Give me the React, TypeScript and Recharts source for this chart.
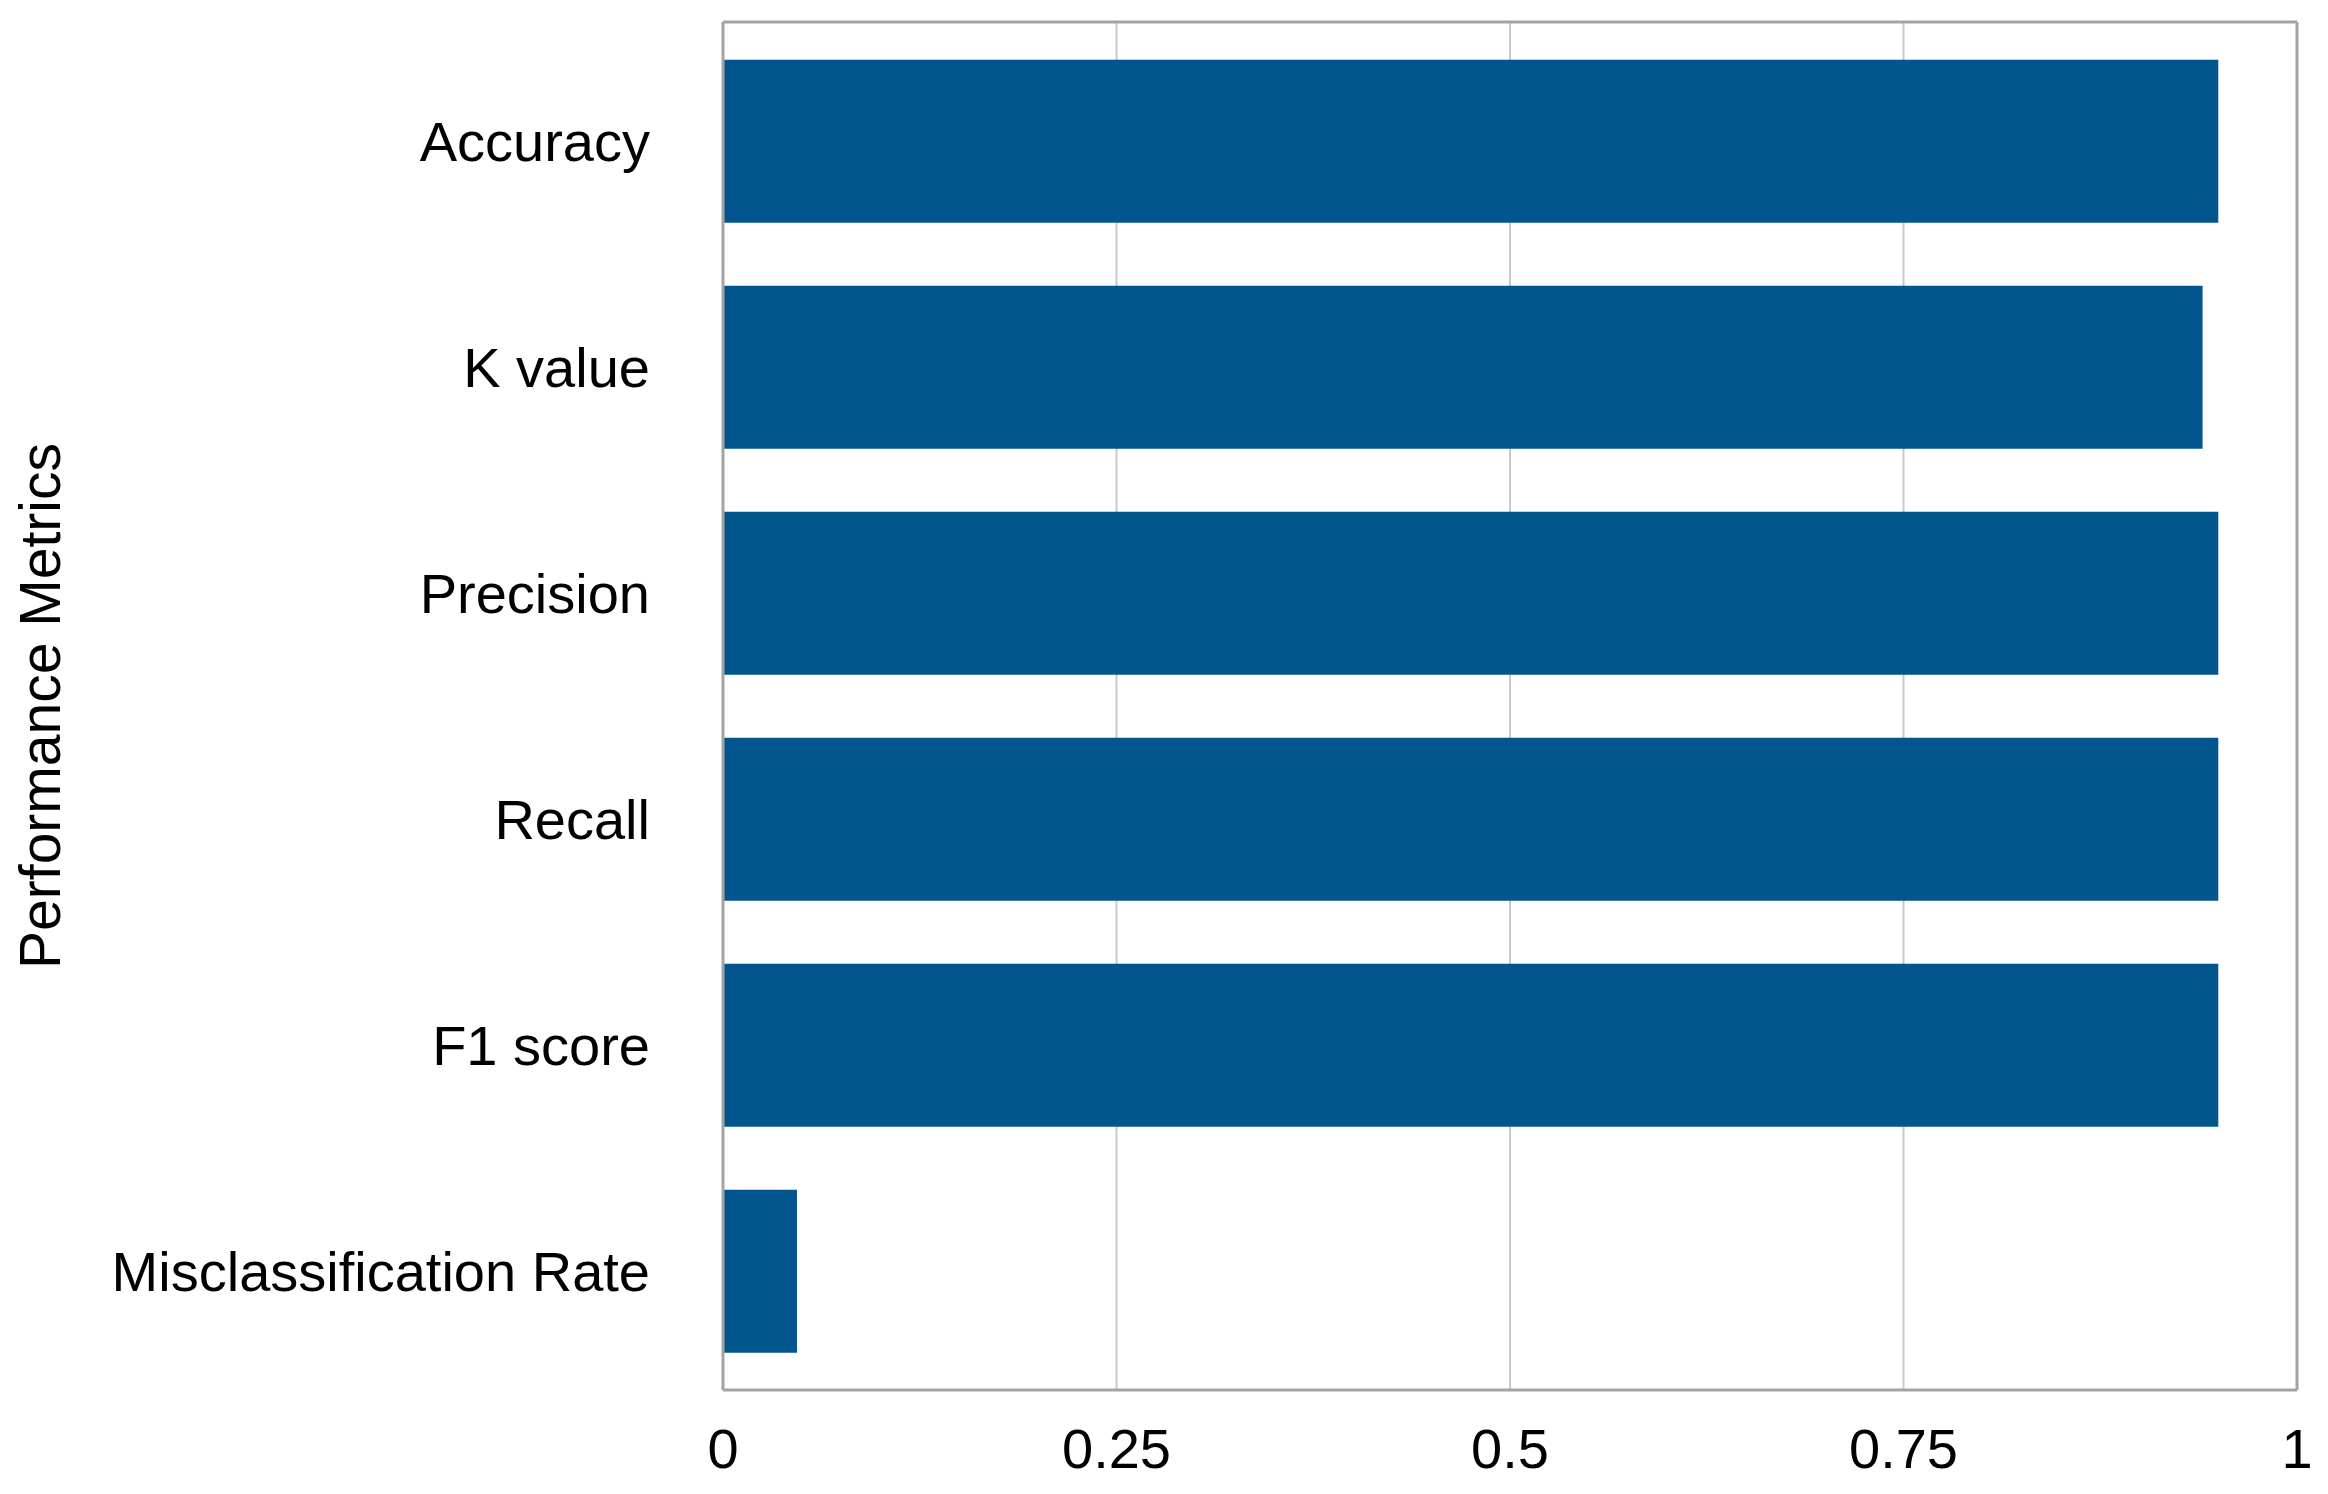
import { BarChart, Bar, XAxis, YAxis, CartesianGrid } from 'recharts'

const metrics = ['Accuracy', 'K value', 'Precision', 'Recall', 'F1 score', 'Misclassification Rate']
const scores = [0.95, 0.94, 0.95, 0.95, 0.95, 0.047]
const xTicks = [0, 0.25, 0.5, 0.75, 1]

const FONT = '"Liberation Sans", Arial, Helvetica, sans-serif'
const BORDER = '#a3a3a3'

function AxisTitle({ viewBox }: any) {
  const cy = viewBox.y + viewBox.height / 2
  return (
    <text x={60} y={cy} transform={`rotate(-90, 60, ${cy})`} textAnchor="middle"
      fontSize={57} fontFamily={FONT} fill="#000">
      Performance Metrics
    </text>
  )
}

export default function App() {
  const data = metrics.map((m, i) => ({ metric: m, score: scores[i] }))

  return (
    <div style={{ position: 'absolute', left: 0, top: 0, background: '#fff' }}>
      <BarChart width={2328} height={1494} data={data} layout="vertical"
        margin={{ top: 21, right: 30, bottom: 0, left: 0 }} barCategoryGap="14%">
        <CartesianGrid horizontal={false} stroke="#c9c9c9" strokeWidth={2} />
        <XAxis type="number" domain={[0, 1]} ticks={xTicks} height={104}
          axisLine={{ stroke: BORDER, strokeWidth: 3 }} tickLine={false} tickMargin={32}
          tick={{ fontSize: 56, fill: '#000', fontFamily: FONT }} />
        <XAxis xAxisId="top" orientation="top" type="number" domain={[0, 1]} height={1}
          tick={false} tickLine={false} axisLine={{ stroke: BORDER, strokeWidth: 3 }} />
        <YAxis type="category" dataKey="metric" width={723} padding={{ top: 6, bottom: 6 }}
          axisLine={{ stroke: BORDER, strokeWidth: 3 }} tickLine={false} tickMargin={67}
          tick={{ fontSize: 56, fill: '#000', fontFamily: FONT }}
          label={{ content: AxisTitle }} />
        <YAxis yAxisId="right" orientation="right" type="category" dataKey="metric" width={1}
          tick={false} tickLine={false} axisLine={{ stroke: BORDER, strokeWidth: 3 }} />
        <Bar dataKey="score" fill="#02568D" isAnimationActive={false} />
      </BarChart>
    </div>
  )
}
